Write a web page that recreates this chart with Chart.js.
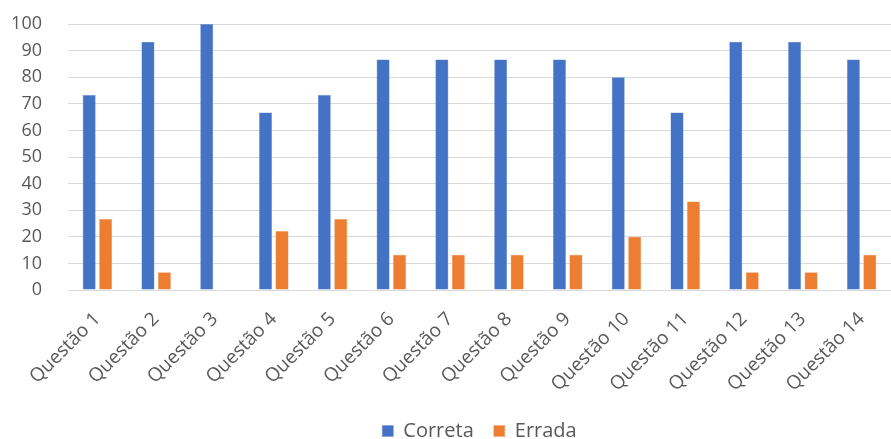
<!DOCTYPE html>
<html>
<head>
<meta charset="utf-8">
<script src="https://cdn.jsdelivr.net/npm/chart.js@4"></script>
<style>
  html, body { margin: 0; padding: 0; background: #fff; }
  #wrap { width: 891px; height: 439px; position: relative; }
</style>
</head>
<body>
<div id="wrap"><canvas id="chart"></canvas></div>
<script>
/* Data (percent of answers) */
var categories = ['Questão 1', 'Questão 2', 'Questão 3', 'Questão 4', 'Questão 5', 'Questão 6', 'Questão 7',
  'Questão 8', 'Questão 9', 'Questão 10', 'Questão 11', 'Questão 12', 'Questão 13', 'Questão 14'];
var correta = [73.3, 93.3, 100, 66.7, 73.3, 86.7, 86.7, 86.7, 86.7, 80, 66.7, 93.3, 93.3, 86.7];
var errada = [26.7, 6.7, 0, 22.2, 26.7, 13.3, 13.3, 13.3, 13.3, 20, 33.3, 6.7, 6.7, 13.3];
var yTicks = [0, 10, 20, 30, 40, 50, 60, 70, 80, 90, 100];

var FONT = "'Open Sans', 'Liberation Sans', sans-serif";

new Chart(document.getElementById('chart'), {
  type: 'bar',
  data: {
    labels: categories,
    datasets: [
      { label: 'Correta', data: correta, backgroundColor: '#4472C4', borderColor: '#6a8fd4', borderWidth: 0.5 },
      { label: 'Errada', data: errada, backgroundColor: '#ED7D31', borderColor: '#f29c63', borderWidth: 0.5 }
    ]
  },
  options: {
    responsive: true,
    maintainAspectRatio: false,
    animation: false,
    categoryPercentage: 0.56,
    barPercentage: 0.79,
    layout: { padding: { left: 12, right: 0, top: 24, bottom: -12 } },
    plugins: {
      legend: {
        position: 'bottom',
        fullSize: false,
        labels: { color: '#595959', boxWidth: 11, boxHeight: 11, padding: 20, font: { family: FONT, size: 20 } }
      },
      tooltip: { enabled: false }
    },
    scales: {
      x: {
        grid: { display: false },
        border: { display: true, color: '#d9d9d9', width: 1 },
        ticks: { color: '#595959', maxRotation: 45, minRotation: 45, padding: 10, font: { family: FONT, size: 19 } },
        afterFit: function(scale) {
          /* first rotated label may run under the y labels */
          scale.paddingLeft = 0;
          scale.paddingRight = 0;
          scale.height -= 5;
        }
      },
      y: {
        min: 0,
        max: 100,
        afterBuildTicks: function(axis) {
          axis.ticks = yTicks.map(function(v) { return { value: v }; });
        },
        afterFit: function(scale) {
          scale.width = 56;
          scale.paddingTop = 0;
          scale.paddingBottom = 0;
        },
        grid: { color: '#d9d9d9', lineWidth: 1, drawTicks: false },
        border: { display: false },
        ticks: { color: '#595959', padding: 26, autoSkip: false, font: { family: FONT, size: 18 } }
      }
    }
  }
});
</script>
</body>
</html>
